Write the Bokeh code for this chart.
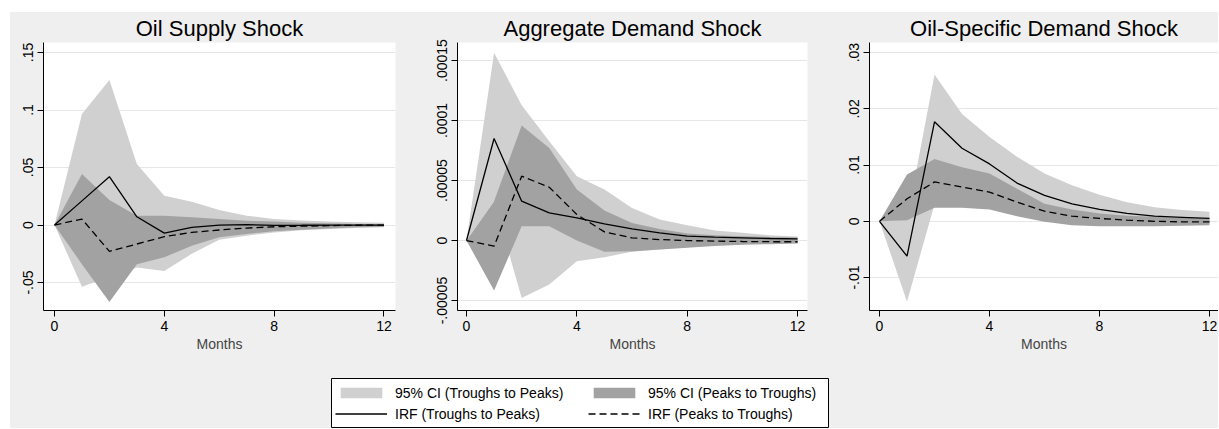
from bokeh.plotting import figure
from bokeh.models import Range1d, FixedTicker, Legend, LegendItem, BoxAnnotation
from bokeh.layouts import column, gridplot
from bokeh.embed import file_html
from bokeh.resources import INLINE

months = list(range(13))
x_ticks = [0, 4, 8, 12]

# ---- Oil Supply Shock ----
os_ci_tp_hi = [0, 0.0965, 0.126, 0.053, 0.0255, 0.0203, 0.013, 0.0081, 0.0052, 0.004, 0.003, 0.0025, 0.002]
os_ci_tp_lo = [0, -0.0536, -0.045, -0.037, -0.040, -0.025, -0.0128, -0.0093, -0.0064, -0.0045, -0.0035, -0.0025, -0.002]
os_ci_pt_hi = [0, 0.0443, 0.0217, 0.0081, 0.0081, 0.0067, 0.0052, 0.0038, 0.003, 0.002, 0.0015, 0.001, 0.001]
os_ci_pt_lo = [0, -0.034, -0.067, -0.034, -0.028, -0.018, -0.0107, -0.0078, -0.0055, -0.004, -0.003, -0.002, -0.0015]
os_irf_tp = [0, 0.021, 0.042, 0.0072, -0.007, -0.002, 0.0, 0.0003, -0.0003, -0.0002, 0.0, 0.0, 0.0]
os_irf_pt = [0, 0.0052, -0.0229, -0.0165, -0.0101, -0.0064, -0.0043, -0.0026, -0.0015, -0.001, -0.0005, -0.0002, 0.0]
os_yticks = [-0.05, 0, 0.05, 0.1, 0.15]
os_ylabels = ["-.05", "0", ".05", ".1", ".15"]

# ---- Aggregate Demand Shock ----
ad_ci_tp_hi = [0, 15.64e-5, 11.28e-5, 8.28e-5, 5.36e-5, 4.25e-5, 2.72e-5, 1.75e-5, 1.28e-5, 0.83e-5, 0.64e-5, 0.44e-5, 0.33e-5]
ad_ci_tp_lo = [0, 3.3e-5, -4.78e-5, -3.67e-5, -1.72e-5, -1.39e-5, -0.94e-5, -0.75e-5, -0.56e-5, -0.4e-5, -0.3e-5, -0.25e-5, -0.2e-5]
ad_ci_pt_hi = [0, 3.28e-5, 9.58e-5, 7.72e-5, 4.25e-5, 2.5e-5, 1.47e-5, 0.97e-5, 0.58e-5, 0.45e-5, 0.35e-5, 0.3e-5, 0.25e-5]
ad_ci_pt_lo = [0, -4.17e-5, 1.19e-5, 1.19e-5, 0.0, -0.94e-5, -0.89e-5, -0.75e-5, -0.6e-5, -0.45e-5, -0.35e-5, -0.3e-5, -0.25e-5]
ad_irf_tp = [0, 8.5e-5, 3.28e-5, 2.3e-5, 1.89e-5, 1.39e-5, 0.97e-5, 0.64e-5, 0.36e-5, 0.28e-5, 0.22e-5, 0.17e-5, 0.13e-5]
ad_irf_pt = [0, -0.47e-5, 5.36e-5, 4.44e-5, 2.17e-5, 0.72e-5, 0.22e-5, 0.08e-5, 0.0, -0.05e-5, -0.08e-5, -0.1e-5, -0.1e-5]
ad_yticks = [-0.00005, 0, 0.00005, 0.0001, 0.00015]
ad_ylabels = ["-.00005", "0", ".00005", ".0001", ".00015"]

# ---- Oil-Specific Demand Shock ----
od_ci_tp_hi = [0, 0.0003, 0.0261, 0.0191, 0.015, 0.0115, 0.0085, 0.0064, 0.0047, 0.0034, 0.0025, 0.002, 0.0017]
od_ci_tp_lo = [0, -0.0143, 0.003, 0.0028, 0.0025, 0.0012, 0.0002, -0.0004, -0.0006, -0.0007, -0.0007, -0.0006, -0.0005]
od_ci_pt_hi = [0, 0.0083, 0.0111, 0.0096, 0.0085, 0.0058, 0.0031, 0.0021, 0.0014, 0.001, 0.0008, 0.0006, 0.0005]
od_ci_pt_lo = [0, 0.0002, 0.0024, 0.0024, 0.0021, 0.0009, -0.0001, -0.0007, -0.0009, -0.0009, -0.0009, -0.0008, -0.0007]
od_irf_tp = [0, -0.0062, 0.0177, 0.013, 0.0102, 0.0068, 0.0046, 0.0031, 0.0021, 0.0014, 0.0009, 0.0007, 0.0005]
od_irf_pt = [0, 0.004, 0.007, 0.0061, 0.0052, 0.0034, 0.0018, 0.0009, 0.0005, 0.0002, 0.0, -0.0001, -0.0001]
od_yticks = [-0.01, 0, 0.01, 0.02, 0.03]
od_ylabels = ["-.01", "0", ".01", ".02", ".03"]

legend_labels = ["95% CI (Troughs to Peaks)", "95% CI (Peaks to Troughs)",
                 "IRF (Troughs to Peaks)", "IRF (Peaks to Troughs)"]

FONT = "Liberation Sans"
BG = "#efefef"
LIGHT = "#d0d0d0"
DARK = "#a2a2a2"
DASH = "7 4"
NAN = float("nan")


def panel(title, tp_lo, tp_hi, pt_lo, pt_hi, irf_tp, irf_pt, yticks, ylabels,
          xr, yr, width, left, right):
    p = figure(width=width, height=352, x_range=Range1d(*xr), y_range=Range1d(*yr),
               output_backend="svg", toolbar_location=None,
               min_border_left=left, min_border_right=right,
               min_border_top=30, min_border_bottom=54)
    p.styles = {"background-color": BG}
    p.border_fill_color = BG
    p.background_fill_color = "white"
    p.outline_line_color = None
    p.title.text = title
    p.title.align = "center"
    p.title.vertical_align = "top"
    p.title.text_font = FONT
    p.title.text_font_size = "22px"
    p.title.text_font_style = "normal"
    p.title.text_color = "black"
    p.title.standoff = 0

    p.varea(x=months, y1=tp_lo, y2=tp_hi, fill_color=LIGHT, fill_alpha=1)
    p.varea(x=months, y1=pt_lo, y2=pt_hi, fill_color=DARK, fill_alpha=1)
    p.line(x=months, y=irf_tp, line_color="black", line_width=1.3)
    p.line(x=months, y=irf_pt, line_color="black", line_width=1.3, line_dash=DASH)

    yt = FixedTicker(ticks=yticks, minor_ticks=[])
    p.yaxis.ticker = yt
    p.ygrid.ticker = yt
    p.yaxis.major_label_overrides = {t: l for t, l in zip(yticks, ylabels)}
    p.yaxis.major_label_orientation = "vertical"
    p.ygrid.grid_line_color = "#e6e6e6"
    p.ygrid.grid_line_width = 1
    p.xgrid.visible = False

    p.xaxis.ticker = FixedTicker(ticks=x_ticks, minor_ticks=[])
    p.xaxis.axis_label = "Months"
    p.xaxis.axis_label_text_font_style = "normal"
    p.xaxis.axis_label_text_font = FONT
    p.xaxis.axis_label_text_font_size = "14px"
    p.xaxis.axis_label_standoff = 2
    for ax in (p.xaxis, p.yaxis):
        ax.major_label_text_font = FONT
        ax.major_label_text_font_size = "14px"
        ax.major_label_text_color = "black"
        ax.axis_line_color = "black"
        ax.major_tick_line_color = "black"
        ax.major_tick_out = 6
        ax.major_tick_in = 0
        ax.minor_tick_line_color = None
        ax.major_label_standoff = 4
    return p


p1 = panel("Oil Supply Shock", os_ci_tp_lo, os_ci_tp_hi, os_ci_pt_lo, os_ci_pt_hi,
           os_irf_tp, os_irf_pt, os_yticks, os_ylabels,
           (-0.40, 12.42), (-0.0743, 0.1587), 395, 33, 10)
p2 = panel("Aggregate Demand Shock", ad_ci_tp_lo, ad_ci_tp_hi, ad_ci_pt_lo, ad_ci_pt_hi,
           ad_irf_tp, ad_irf_pt, ad_yticks, ad_ylabels,
           (-0.326, 12.36), (-0.0000583, 0.000165), 410, 52, 8)
p3 = panel("Oil-Specific Demand Shock", od_ci_tp_lo, od_ci_tp_hi, od_ci_pt_lo, od_ci_pt_hi,
           od_irf_tp, od_irf_pt, od_yticks, od_ylabels,
           (-0.364, 12.327), (-0.01587, 0.0318), 403, 54, 0)

# ---- legend strip (ranges equal to its pixel size) ----
LW, LH = 1208, 64
pl = figure(width=LW, height=LH, x_range=Range1d(0, LW), y_range=Range1d(0, LH),
            x_axis_type=None, y_axis_type=None, output_backend="svg",
            toolbar_location=None, min_border=0)
pl.styles = {"background-color": BG}
pl.border_fill_color = BG
pl.background_fill_color = BG
pl.outline_line_color = None
pl.grid.visible = False

pl.add_layout(BoxAnnotation(left=321, right=818, bottom=1, top=50,
                            fill_color="white", fill_alpha=1,
                            line_color="black", line_width=1, line_alpha=1))

r_l = pl.varea(x=[NAN], y1=[NAN], y2=[NAN], fill_color=LIGHT)
r_d = pl.varea(x=[NAN], y1=[NAN], y2=[NAN], fill_color=DARK)
r_s = pl.line(x=[NAN], y=[NAN], line_color="black", line_width=1.3)
r_p = pl.line(x=[NAN], y=[NAN], line_color="black", line_width=1.3, line_dash=DASH)


def make_legend(items, loc):
    return Legend(items=items, location=loc, orientation="vertical",
                  label_text_font=FONT, label_text_font_size="14px", label_text_color="black",
                  glyph_width=52, glyph_height=13, label_height=21,
                  label_standoff=8, spacing=0, padding=0, margin=0,
                  border_line_color=None, background_fill_alpha=0)


leg_a = make_legend([LegendItem(label=legend_labels[0], renderers=[r_l]),
                     LegendItem(label=legend_labels[2], renderers=[r_s])], (325, 4))
leg_b = make_legend([LegendItem(label=legend_labels[1], renderers=[r_d]),
                     LegendItem(label=legend_labels[3], renderers=[r_p])], (578, 4))
pl.add_layout(leg_a)
pl.add_layout(leg_b)

grid = gridplot([[p1, p2, p3]], toolbar_location=None)
grid.styles = {"background-color": BG}
layout = column(grid, pl, margin=(12, 0, 0, 10), styles={"background-color": BG})
open("out.html", "w").write(file_html(layout, INLINE))
